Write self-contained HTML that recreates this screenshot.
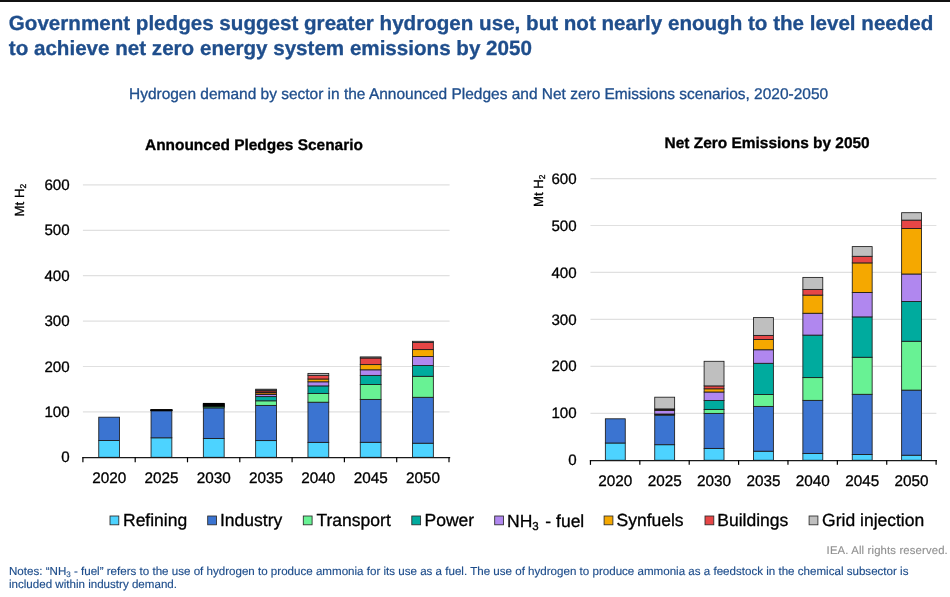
<!DOCTYPE html>
<html><head><meta charset="utf-8">
<style>
html,body{margin:0;padding:0;background:#fff;}
body{width:950px;height:597px;position:relative;overflow:hidden;font-family:"Liberation Sans",sans-serif;}
#topbar{position:absolute;left:0;top:0;width:950px;height:2px;background:#111;}
svg{position:absolute;left:0;top:0;will-change:transform;}
svg text{font-family:"Liberation Sans",sans-serif;text-rendering:geometricPrecision;white-space:pre;stroke-linejoin:round;}
</style></head><body>
<div id="topbar"></div>
<svg id="chart" width="950" height="597" viewBox="0 0 950 597">
<line x1="82.90" y1="411.90" x2="449.60" y2="411.90" stroke="#e0e0e0" stroke-width="1.2"/>
<line x1="82.90" y1="366.50" x2="449.60" y2="366.50" stroke="#e0e0e0" stroke-width="1.2"/>
<line x1="82.90" y1="321.10" x2="449.60" y2="321.10" stroke="#e0e0e0" stroke-width="1.2"/>
<line x1="82.90" y1="275.70" x2="449.60" y2="275.70" stroke="#e0e0e0" stroke-width="1.2"/>
<line x1="82.90" y1="230.30" x2="449.60" y2="230.30" stroke="#e0e0e0" stroke-width="1.2"/>
<line x1="82.90" y1="184.90" x2="449.60" y2="184.90" stroke="#e0e0e0" stroke-width="1.2"/>
<rect x="98.75" y="440.50" width="20.80" height="16.80" fill="#4dd3ff" stroke="#1c1c1c" stroke-width="0.85"/>
<rect x="98.75" y="417.20" width="20.80" height="23.30" fill="#3b74d1" stroke="#1c1c1c" stroke-width="0.85"/>
<rect x="151.05" y="437.80" width="20.80" height="19.50" fill="#4dd3ff" stroke="#1c1c1c" stroke-width="0.85"/>
<rect x="151.05" y="410.80" width="20.80" height="27.00" fill="#3b74d1" stroke="#1c1c1c" stroke-width="0.85"/>
<rect x="151.05" y="410.55" width="20.80" height="0.25" fill="#68f294" stroke="#1c1c1c" stroke-width="0.85"/>
<rect x="151.05" y="410.30" width="20.80" height="0.25" fill="#00ab9e" stroke="#1c1c1c" stroke-width="0.85"/>
<rect x="151.05" y="410.10" width="20.80" height="0.20" fill="#b087ef" stroke="#1c1c1c" stroke-width="0.85"/>
<rect x="151.05" y="409.95" width="20.80" height="0.15" fill="#f5a800" stroke="#1c1c1c" stroke-width="0.85"/>
<rect x="151.05" y="409.85" width="20.80" height="0.10" fill="#e64646" stroke="#1c1c1c" stroke-width="0.85"/>
<rect x="151.05" y="409.80" width="20.80" height="0.05" fill="#bfbfbf" stroke="#1c1c1c" stroke-width="0.85"/>
<rect x="203.35" y="438.50" width="20.80" height="18.80" fill="#4dd3ff" stroke="#1c1c1c" stroke-width="0.85"/>
<rect x="203.35" y="407.90" width="20.80" height="30.60" fill="#3b74d1" stroke="#1c1c1c" stroke-width="0.85"/>
<rect x="203.35" y="407.30" width="20.80" height="0.60" fill="#68f294" stroke="#1c1c1c" stroke-width="0.85"/>
<rect x="203.35" y="406.50" width="20.80" height="0.80" fill="#00ab9e" stroke="#1c1c1c" stroke-width="0.85"/>
<rect x="203.35" y="405.80" width="20.80" height="0.70" fill="#b087ef" stroke="#1c1c1c" stroke-width="0.85"/>
<rect x="203.35" y="405.10" width="20.80" height="0.70" fill="#f5a800" stroke="#1c1c1c" stroke-width="0.85"/>
<rect x="203.35" y="404.40" width="20.80" height="0.70" fill="#e64646" stroke="#1c1c1c" stroke-width="0.85"/>
<rect x="203.35" y="403.40" width="20.80" height="1.00" fill="#bfbfbf" stroke="#1c1c1c" stroke-width="0.85"/>
<rect x="255.65" y="440.60" width="20.80" height="16.70" fill="#4dd3ff" stroke="#1c1c1c" stroke-width="0.85"/>
<rect x="255.65" y="405.40" width="20.80" height="35.20" fill="#3b74d1" stroke="#1c1c1c" stroke-width="0.85"/>
<rect x="255.65" y="400.80" width="20.80" height="4.60" fill="#68f294" stroke="#1c1c1c" stroke-width="0.85"/>
<rect x="255.65" y="396.60" width="20.80" height="4.20" fill="#00ab9e" stroke="#1c1c1c" stroke-width="0.85"/>
<rect x="255.65" y="394.40" width="20.80" height="2.20" fill="#b087ef" stroke="#1c1c1c" stroke-width="0.85"/>
<rect x="255.65" y="392.50" width="20.80" height="1.90" fill="#b06a12" stroke="#1c1c1c" stroke-width="0.85"/>
<rect x="255.65" y="390.70" width="20.80" height="1.80" fill="#9a2b2b" stroke="#1c1c1c" stroke-width="0.85"/>
<rect x="255.65" y="389.20" width="20.80" height="1.50" fill="#555555" stroke="#1c1c1c" stroke-width="0.85"/>
<rect x="307.95" y="442.35" width="20.80" height="14.95" fill="#4dd3ff" stroke="#1c1c1c" stroke-width="0.85"/>
<rect x="307.95" y="402.20" width="20.80" height="40.15" fill="#3b74d1" stroke="#1c1c1c" stroke-width="0.85"/>
<rect x="307.95" y="393.40" width="20.80" height="8.80" fill="#68f294" stroke="#1c1c1c" stroke-width="0.85"/>
<rect x="307.95" y="385.90" width="20.80" height="7.50" fill="#00ab9e" stroke="#1c1c1c" stroke-width="0.85"/>
<rect x="307.95" y="381.80" width="20.80" height="4.10" fill="#b087ef" stroke="#1c1c1c" stroke-width="0.85"/>
<rect x="307.95" y="379.00" width="20.80" height="2.80" fill="#f5a800" stroke="#1c1c1c" stroke-width="0.85"/>
<rect x="307.95" y="375.30" width="20.80" height="3.70" fill="#e64646" stroke="#1c1c1c" stroke-width="0.85"/>
<rect x="307.95" y="373.40" width="20.80" height="1.90" fill="#bfbfbf" stroke="#1c1c1c" stroke-width="0.85"/>
<rect x="360.25" y="442.30" width="20.80" height="15.00" fill="#4dd3ff" stroke="#1c1c1c" stroke-width="0.85"/>
<rect x="360.25" y="399.40" width="20.80" height="42.90" fill="#3b74d1" stroke="#1c1c1c" stroke-width="0.85"/>
<rect x="360.25" y="384.50" width="20.80" height="14.90" fill="#68f294" stroke="#1c1c1c" stroke-width="0.85"/>
<rect x="360.25" y="375.40" width="20.80" height="9.10" fill="#00ab9e" stroke="#1c1c1c" stroke-width="0.85"/>
<rect x="360.25" y="369.80" width="20.80" height="5.60" fill="#b087ef" stroke="#1c1c1c" stroke-width="0.85"/>
<rect x="360.25" y="364.60" width="20.80" height="5.20" fill="#f5a800" stroke="#1c1c1c" stroke-width="0.85"/>
<rect x="360.25" y="358.00" width="20.80" height="6.60" fill="#e64646" stroke="#1c1c1c" stroke-width="0.85"/>
<rect x="360.25" y="356.90" width="20.80" height="1.10" fill="#bfbfbf" stroke="#1c1c1c" stroke-width="0.85"/>
<rect x="412.55" y="443.20" width="20.80" height="14.10" fill="#4dd3ff" stroke="#1c1c1c" stroke-width="0.85"/>
<rect x="412.55" y="397.30" width="20.80" height="45.90" fill="#3b74d1" stroke="#1c1c1c" stroke-width="0.85"/>
<rect x="412.55" y="376.30" width="20.80" height="21.00" fill="#68f294" stroke="#1c1c1c" stroke-width="0.85"/>
<rect x="412.55" y="365.50" width="20.80" height="10.80" fill="#00ab9e" stroke="#1c1c1c" stroke-width="0.85"/>
<rect x="412.55" y="356.50" width="20.80" height="9.00" fill="#b087ef" stroke="#1c1c1c" stroke-width="0.85"/>
<rect x="412.55" y="349.60" width="20.80" height="6.90" fill="#f5a800" stroke="#1c1c1c" stroke-width="0.85"/>
<rect x="412.55" y="342.40" width="20.80" height="7.20" fill="#e64646" stroke="#1c1c1c" stroke-width="0.85"/>
<rect x="412.55" y="341.30" width="20.80" height="1.10" fill="#bfbfbf" stroke="#1c1c1c" stroke-width="0.85"/>
<line x1="82.30" y1="457.60" x2="450.20" y2="457.60" stroke="#1a1a1a" stroke-width="1.15"/>
<line x1="82.90" y1="457.30" x2="82.90" y2="462.30" stroke="#000" stroke-width="1.2"/>
<line x1="135.20" y1="457.30" x2="135.20" y2="462.30" stroke="#000" stroke-width="1.2"/>
<line x1="187.50" y1="457.30" x2="187.50" y2="462.30" stroke="#000" stroke-width="1.2"/>
<line x1="239.80" y1="457.30" x2="239.80" y2="462.30" stroke="#000" stroke-width="1.2"/>
<line x1="292.10" y1="457.30" x2="292.10" y2="462.30" stroke="#000" stroke-width="1.2"/>
<line x1="344.40" y1="457.30" x2="344.40" y2="462.30" stroke="#000" stroke-width="1.2"/>
<line x1="396.70" y1="457.30" x2="396.70" y2="462.30" stroke="#000" stroke-width="1.2"/>
<line x1="449.00" y1="457.30" x2="449.00" y2="462.30" stroke="#000" stroke-width="1.2"/>
<text stroke-width="0.32" x="69.60" y="462.40" font-size="15.1" text-anchor="end" fill="#000" stroke="#000">0</text>
<text stroke-width="0.32" x="69.60" y="417.00" font-size="15.1" text-anchor="end" fill="#000" stroke="#000">100</text>
<text stroke-width="0.32" x="69.60" y="371.60" font-size="15.1" text-anchor="end" fill="#000" stroke="#000">200</text>
<text stroke-width="0.32" x="69.60" y="326.20" font-size="15.1" text-anchor="end" fill="#000" stroke="#000">300</text>
<text stroke-width="0.32" x="69.60" y="280.80" font-size="15.1" text-anchor="end" fill="#000" stroke="#000">400</text>
<text stroke-width="0.32" x="69.60" y="235.40" font-size="15.1" text-anchor="end" fill="#000" stroke="#000">500</text>
<text stroke-width="0.32" x="69.60" y="190.00" font-size="15.1" text-anchor="end" fill="#000" stroke="#000">600</text>
<text stroke-width="0.32" x="109.15" y="482.60" font-size="15.3" text-anchor="middle" fill="#000" stroke="#000">2020</text>
<text stroke-width="0.32" x="161.45" y="482.60" font-size="15.3" text-anchor="middle" fill="#000" stroke="#000">2025</text>
<text stroke-width="0.32" x="213.75" y="482.60" font-size="15.3" text-anchor="middle" fill="#000" stroke="#000">2030</text>
<text stroke-width="0.32" x="266.05" y="482.60" font-size="15.3" text-anchor="middle" fill="#000" stroke="#000">2035</text>
<text stroke-width="0.32" x="318.35" y="482.60" font-size="15.3" text-anchor="middle" fill="#000" stroke="#000">2040</text>
<text stroke-width="0.32" x="370.65" y="482.60" font-size="15.3" text-anchor="middle" fill="#000" stroke="#000">2045</text>
<text stroke-width="0.32" x="422.95" y="482.60" font-size="15.3" text-anchor="middle" fill="#000" stroke="#000">2050</text>
<rect x="150.60" y="409.35" width="21.70" height="1.65" fill="#000"/>
<rect x="202.90" y="402.95" width="21.70" height="3.85" fill="#000"/>
<rect x="203.75" y="406.8" width="20.00" height="0.9" fill="#2c6e45"/>
<line x1="590.45" y1="413.30" x2="936.40" y2="413.30" stroke="#e0e0e0" stroke-width="1.2"/>
<line x1="590.45" y1="366.35" x2="936.40" y2="366.35" stroke="#e0e0e0" stroke-width="1.2"/>
<line x1="590.45" y1="319.40" x2="936.40" y2="319.40" stroke="#e0e0e0" stroke-width="1.2"/>
<line x1="590.45" y1="272.45" x2="936.40" y2="272.45" stroke="#e0e0e0" stroke-width="1.2"/>
<line x1="590.45" y1="225.50" x2="936.40" y2="225.50" stroke="#e0e0e0" stroke-width="1.2"/>
<line x1="590.45" y1="178.55" x2="936.40" y2="178.55" stroke="#e0e0e0" stroke-width="1.2"/>
<rect x="605.35" y="443.00" width="19.90" height="17.25" fill="#4dd3ff" stroke="#1c1c1c" stroke-width="0.85"/>
<rect x="605.35" y="418.80" width="19.90" height="24.20" fill="#3b74d1" stroke="#1c1c1c" stroke-width="0.85"/>
<rect x="654.73" y="444.70" width="19.90" height="15.55" fill="#4dd3ff" stroke="#1c1c1c" stroke-width="0.85"/>
<rect x="654.73" y="415.10" width="19.90" height="29.60" fill="#3b74d1" stroke="#1c1c1c" stroke-width="0.85"/>
<rect x="654.73" y="414.60" width="19.90" height="0.50" fill="#68f294" stroke="#1c1c1c" stroke-width="0.85"/>
<rect x="654.73" y="414.00" width="19.90" height="0.60" fill="#00ab9e" stroke="#1c1c1c" stroke-width="0.85"/>
<rect x="654.73" y="410.40" width="19.90" height="3.60" fill="#b087ef" stroke="#1c1c1c" stroke-width="0.85"/>
<rect x="654.73" y="409.80" width="19.90" height="0.60" fill="#f5a800" stroke="#1c1c1c" stroke-width="0.85"/>
<rect x="654.73" y="408.90" width="19.90" height="0.90" fill="#e64646" stroke="#1c1c1c" stroke-width="0.85"/>
<rect x="654.73" y="397.20" width="19.90" height="11.70" fill="#bfbfbf" stroke="#1c1c1c" stroke-width="0.85"/>
<rect x="704.11" y="448.40" width="19.90" height="11.85" fill="#4dd3ff" stroke="#1c1c1c" stroke-width="0.85"/>
<rect x="704.11" y="413.40" width="19.90" height="35.00" fill="#3b74d1" stroke="#1c1c1c" stroke-width="0.85"/>
<rect x="704.11" y="409.40" width="19.90" height="4.00" fill="#68f294" stroke="#1c1c1c" stroke-width="0.85"/>
<rect x="704.11" y="400.50" width="19.90" height="8.90" fill="#00ab9e" stroke="#1c1c1c" stroke-width="0.85"/>
<rect x="704.11" y="392.00" width="19.90" height="8.50" fill="#b087ef" stroke="#1c1c1c" stroke-width="0.85"/>
<rect x="704.11" y="388.80" width="19.90" height="3.20" fill="#f5a800" stroke="#1c1c1c" stroke-width="0.85"/>
<rect x="704.11" y="385.90" width="19.90" height="2.90" fill="#e64646" stroke="#1c1c1c" stroke-width="0.85"/>
<rect x="704.11" y="361.30" width="19.90" height="24.60" fill="#bfbfbf" stroke="#1c1c1c" stroke-width="0.85"/>
<rect x="753.49" y="451.20" width="19.90" height="9.05" fill="#4dd3ff" stroke="#1c1c1c" stroke-width="0.85"/>
<rect x="753.49" y="406.40" width="19.90" height="44.80" fill="#3b74d1" stroke="#1c1c1c" stroke-width="0.85"/>
<rect x="753.49" y="394.50" width="19.90" height="11.90" fill="#68f294" stroke="#1c1c1c" stroke-width="0.85"/>
<rect x="753.49" y="363.30" width="19.90" height="31.20" fill="#00ab9e" stroke="#1c1c1c" stroke-width="0.85"/>
<rect x="753.49" y="349.75" width="19.90" height="13.55" fill="#b087ef" stroke="#1c1c1c" stroke-width="0.85"/>
<rect x="753.49" y="339.50" width="19.90" height="10.25" fill="#f5a800" stroke="#1c1c1c" stroke-width="0.85"/>
<rect x="753.49" y="335.40" width="19.90" height="4.10" fill="#e64646" stroke="#1c1c1c" stroke-width="0.85"/>
<rect x="753.49" y="317.60" width="19.90" height="17.80" fill="#bfbfbf" stroke="#1c1c1c" stroke-width="0.85"/>
<rect x="802.87" y="453.40" width="19.90" height="6.85" fill="#4dd3ff" stroke="#1c1c1c" stroke-width="0.85"/>
<rect x="802.87" y="400.35" width="19.90" height="53.05" fill="#3b74d1" stroke="#1c1c1c" stroke-width="0.85"/>
<rect x="802.87" y="377.60" width="19.90" height="22.75" fill="#68f294" stroke="#1c1c1c" stroke-width="0.85"/>
<rect x="802.87" y="335.10" width="19.90" height="42.50" fill="#00ab9e" stroke="#1c1c1c" stroke-width="0.85"/>
<rect x="802.87" y="313.25" width="19.90" height="21.85" fill="#b087ef" stroke="#1c1c1c" stroke-width="0.85"/>
<rect x="802.87" y="295.10" width="19.90" height="18.15" fill="#f5a800" stroke="#1c1c1c" stroke-width="0.85"/>
<rect x="802.87" y="289.40" width="19.90" height="5.70" fill="#e64646" stroke="#1c1c1c" stroke-width="0.85"/>
<rect x="802.87" y="277.40" width="19.90" height="12.00" fill="#bfbfbf" stroke="#1c1c1c" stroke-width="0.85"/>
<rect x="852.25" y="454.45" width="19.90" height="5.80" fill="#4dd3ff" stroke="#1c1c1c" stroke-width="0.85"/>
<rect x="852.25" y="394.30" width="19.90" height="60.15" fill="#3b74d1" stroke="#1c1c1c" stroke-width="0.85"/>
<rect x="852.25" y="357.25" width="19.90" height="37.05" fill="#68f294" stroke="#1c1c1c" stroke-width="0.85"/>
<rect x="852.25" y="316.90" width="19.90" height="40.35" fill="#00ab9e" stroke="#1c1c1c" stroke-width="0.85"/>
<rect x="852.25" y="292.45" width="19.90" height="24.45" fill="#b087ef" stroke="#1c1c1c" stroke-width="0.85"/>
<rect x="852.25" y="262.90" width="19.90" height="29.55" fill="#f5a800" stroke="#1c1c1c" stroke-width="0.85"/>
<rect x="852.25" y="256.30" width="19.90" height="6.60" fill="#e64646" stroke="#1c1c1c" stroke-width="0.85"/>
<rect x="852.25" y="246.60" width="19.90" height="9.70" fill="#bfbfbf" stroke="#1c1c1c" stroke-width="0.85"/>
<rect x="901.63" y="455.20" width="19.90" height="5.05" fill="#4dd3ff" stroke="#1c1c1c" stroke-width="0.85"/>
<rect x="901.63" y="390.10" width="19.90" height="65.10" fill="#3b74d1" stroke="#1c1c1c" stroke-width="0.85"/>
<rect x="901.63" y="341.25" width="19.90" height="48.85" fill="#68f294" stroke="#1c1c1c" stroke-width="0.85"/>
<rect x="901.63" y="301.50" width="19.90" height="39.75" fill="#00ab9e" stroke="#1c1c1c" stroke-width="0.85"/>
<rect x="901.63" y="274.00" width="19.90" height="27.50" fill="#b087ef" stroke="#1c1c1c" stroke-width="0.85"/>
<rect x="901.63" y="228.50" width="19.90" height="45.50" fill="#f5a800" stroke="#1c1c1c" stroke-width="0.85"/>
<rect x="901.63" y="220.10" width="19.90" height="8.40" fill="#e64646" stroke="#1c1c1c" stroke-width="0.85"/>
<rect x="901.63" y="212.70" width="19.90" height="7.40" fill="#bfbfbf" stroke="#1c1c1c" stroke-width="0.85"/>
<line x1="589.85" y1="460.55" x2="937.00" y2="460.55" stroke="#1a1a1a" stroke-width="1.15"/>
<line x1="590.45" y1="460.25" x2="590.45" y2="464.85" stroke="#000" stroke-width="1.2"/>
<line x1="639.83" y1="460.25" x2="639.83" y2="464.85" stroke="#000" stroke-width="1.2"/>
<line x1="689.21" y1="460.25" x2="689.21" y2="464.85" stroke="#000" stroke-width="1.2"/>
<line x1="738.59" y1="460.25" x2="738.59" y2="464.85" stroke="#000" stroke-width="1.2"/>
<line x1="787.97" y1="460.25" x2="787.97" y2="464.85" stroke="#000" stroke-width="1.2"/>
<line x1="837.35" y1="460.25" x2="837.35" y2="464.85" stroke="#000" stroke-width="1.2"/>
<line x1="886.73" y1="460.25" x2="886.73" y2="464.85" stroke="#000" stroke-width="1.2"/>
<line x1="936.11" y1="460.25" x2="936.11" y2="464.85" stroke="#000" stroke-width="1.2"/>
<text stroke-width="0.32" x="576.60" y="465.35" font-size="15.1" text-anchor="end" fill="#000" stroke="#000">0</text>
<text stroke-width="0.32" x="576.60" y="418.40" font-size="15.1" text-anchor="end" fill="#000" stroke="#000">100</text>
<text stroke-width="0.32" x="576.60" y="371.45" font-size="15.1" text-anchor="end" fill="#000" stroke="#000">200</text>
<text stroke-width="0.32" x="576.60" y="324.50" font-size="15.1" text-anchor="end" fill="#000" stroke="#000">300</text>
<text stroke-width="0.32" x="576.60" y="277.55" font-size="15.1" text-anchor="end" fill="#000" stroke="#000">400</text>
<text stroke-width="0.32" x="576.60" y="230.60" font-size="15.1" text-anchor="end" fill="#000" stroke="#000">500</text>
<text stroke-width="0.32" x="576.60" y="183.65" font-size="15.1" text-anchor="end" fill="#000" stroke="#000">600</text>
<text stroke-width="0.32" x="615.30" y="485.60" font-size="15.3" text-anchor="middle" fill="#000" stroke="#000">2020</text>
<text stroke-width="0.32" x="664.68" y="485.60" font-size="15.3" text-anchor="middle" fill="#000" stroke="#000">2025</text>
<text stroke-width="0.32" x="714.06" y="485.60" font-size="15.3" text-anchor="middle" fill="#000" stroke="#000">2030</text>
<text stroke-width="0.32" x="763.44" y="485.60" font-size="15.3" text-anchor="middle" fill="#000" stroke="#000">2035</text>
<text stroke-width="0.32" x="812.82" y="485.60" font-size="15.3" text-anchor="middle" fill="#000" stroke="#000">2040</text>
<text stroke-width="0.32" x="862.20" y="485.60" font-size="15.3" text-anchor="middle" fill="#000" stroke="#000">2045</text>
<text stroke-width="0.32" x="911.58" y="485.60" font-size="15.3" text-anchor="middle" fill="#000" stroke="#000">2050</text>
<text stroke-width="0.32" transform="translate(24.00,216.40) rotate(-90)" font-size="13.2" fill="#000" stroke="#000">Mt H<tspan font-size="8.5" dy="2">2</tspan></text>
<text stroke-width="0.32" transform="translate(542.60,207.00) rotate(-90)" font-size="13.2" fill="#000" stroke="#000">Mt H<tspan font-size="8.5" dy="2">2</tspan></text>
<rect x="110.00" y="516.0" width="8.8" height="8.8" fill="#4dd3ff" stroke="#2a2a2a" stroke-width="0.85"/>
<text stroke-width="0.32" x="123.00" y="526.2" font-size="17.5" fill="#000" stroke="#000">Refining</text>
<rect x="207.70" y="516.0" width="8.8" height="8.8" fill="#3b74d1" stroke="#2a2a2a" stroke-width="0.85"/>
<text stroke-width="0.32" x="220.00" y="526.2" font-size="17.5" fill="#000" stroke="#000">Industry</text>
<rect x="303.30" y="516.0" width="8.8" height="8.8" fill="#68f294" stroke="#2a2a2a" stroke-width="0.85"/>
<text stroke-width="0.32" x="316.50" y="526.2" font-size="17.5" fill="#000" stroke="#000">Transport</text>
<rect x="411.80" y="516.0" width="8.8" height="8.8" fill="#00ab9e" stroke="#2a2a2a" stroke-width="0.85"/>
<text stroke-width="0.32" x="424.50" y="526.2" font-size="17.5" fill="#000" stroke="#000">Power</text>
<rect x="494.70" y="516.0" width="8.8" height="8.8" fill="#b087ef" stroke="#2a2a2a" stroke-width="0.85"/>
<text stroke-width="0.32" x="507.00" y="526.7" font-size="17.5" fill="#000" stroke="#000">NH<tspan font-size="11.5" dy="3">3</tspan><tspan dy="-3" dx="1.8"> - fuel</tspan></text>
<rect x="604.10" y="516.0" width="8.8" height="8.8" fill="#f5a800" stroke="#2a2a2a" stroke-width="0.85"/>
<text stroke-width="0.32" x="616.50" y="526.2" font-size="17.5" fill="#000" stroke="#000">Synfuels</text>
<rect x="705.00" y="516.0" width="8.8" height="8.8" fill="#e64646" stroke="#2a2a2a" stroke-width="0.85"/>
<text stroke-width="0.32" x="717.30" y="526.2" font-size="17.5" fill="#000" stroke="#000">Buildings</text>
<rect x="809.10" y="516.0" width="8.8" height="8.8" fill="#bfbfbf" stroke="#2a2a2a" stroke-width="0.85"/>
<text stroke-width="0.32" x="822.10" y="526.2" font-size="17.5" fill="#000" stroke="#000">Grid injection</text>

<text stroke-width="0.32" x="8.8" y="29.9" font-size="20.6" font-weight="bold" fill="#1f4e8c" stroke="#1f4e8c">Government pledges suggest greater hydrogen use, but not nearly enough to the level needed</text>
<text stroke-width="0.32" x="8.8" y="55.0" font-size="20.6" font-weight="bold" fill="#1f4e8c" stroke="#1f4e8c">to achieve net zero energy system emissions by 2050</text>
<text stroke-width="0.32" x="129" y="98.6" font-size="15.47" fill="#1f4e8c" stroke="#1f4e8c">Hydrogen demand by sector in the Announced Pledges and Net zero Emissions scenarios, 2020-2050</text>
<text stroke-width="0.32" x="145" y="149.8" font-size="15.45" font-weight="bold" fill="#000" stroke="#000">Announced Pledges Scenario</text>
<text stroke-width="0.32" x="664.6" y="148.3" font-size="15.45" font-weight="bold" fill="#000" stroke="#000">Net Zero Emissions by 2050</text>
<text x="826.6" y="553.7" font-size="11.3" stroke-width="0.15" letter-spacing="0.155" fill="#919191" stroke="#919191">IEA. All rights reserved.</text>
<text x="9" y="574.8" font-size="11.58" stroke-width="0.15" fill="#1f4e8c" stroke="#1f4e8c">Notes: “NH<tspan font-size="8" dy="2">3</tspan><tspan dy="-2"> - fuel” refers to the use of hydrogen to produce ammonia for its use as a fuel. The use of hydrogen to produce ammonia as a feedstock in the chemical subsector is</tspan></text>
<text x="9" y="588.0" font-size="11.58" stroke-width="0.15" fill="#1f4e8c" stroke="#1f4e8c">included within industry demand.</text>
</svg>
</body></html>
